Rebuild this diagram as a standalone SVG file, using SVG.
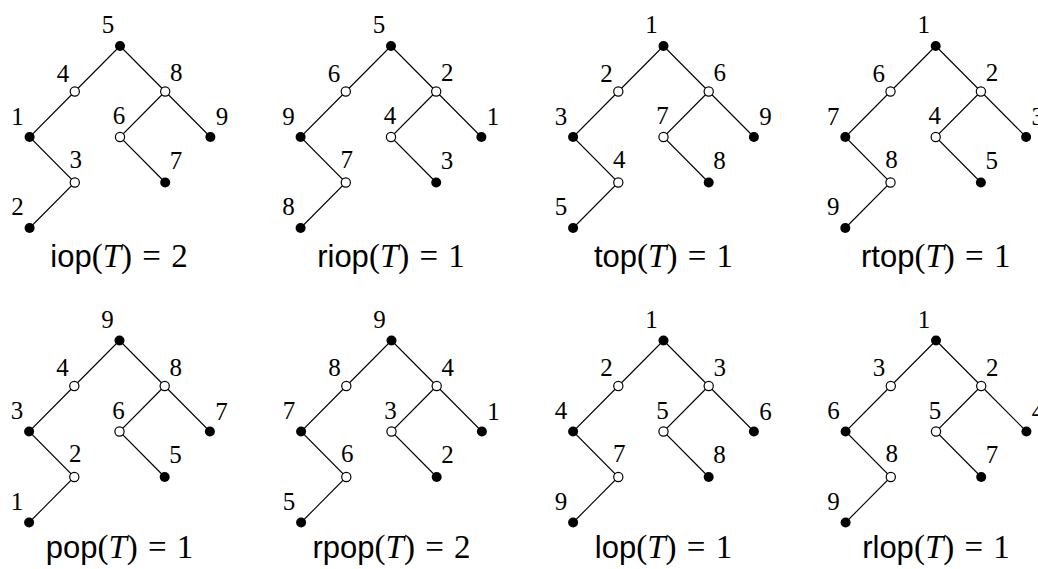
<svg xmlns="http://www.w3.org/2000/svg" width="1038" height="569" viewBox="0 0 1038 569">
<style>
.e{stroke:#000;stroke-width:1.1;fill:none}
.f{fill:#000;stroke:none}
.o{fill:#fff;stroke:#000;stroke-width:1.2}
.lb{font-family:"Liberation Serif","DejaVu Serif",serif;font-size:25px;text-anchor:middle;fill:#000}
.cap{font-family:"Liberation Serif","DejaVu Serif",serif;font-size:33px;text-anchor:middle;fill:#000;word-spacing:2px}
.sf{font-family:"Liberation Sans","DejaVu Sans",sans-serif;font-size:31px}
.it{font-style:italic}
</style>
<rect width="1038" height="569" fill="#fff"/>
<defs>
<g id="edges">
<path class="e" d="M0,0 L-45.2,45.5 L-90.4,91 L-45.2,136.5 L-90.4,182 M0,0 L45.2,45.5 L90.4,91 M45.2,45.5 L0,91 L45.2,136.5"/>
</g>
</defs>

<!-- Tree 1 -->
<g id="tree-iop" transform="translate(120,46)">
<g id="iop-connectors"><use href="#edges"/></g>
<g id="iop-n5"><circle class="f" cx="0" cy="0" r="5"/><text class="lb" x="-12" y="-13">5</text></g>
<g id="iop-n4"><circle class="o" cx="-45.2" cy="45.5" r="4.6"/><text class="lb" x="-57" y="35.5">4</text></g>
<g id="iop-n8"><circle class="o" cx="45.2" cy="45.5" r="4.6"/><text class="lb" x="56.2" y="35">8</text></g>
<g id="iop-n1"><circle class="f" cx="-90.4" cy="91" r="5"/><text class="lb" x="-102.4" y="78.5">1</text></g>
<g id="iop-n6"><circle class="o" cx="0" cy="91" r="4.6"/><text class="lb" x="-1" y="78">6</text></g>
<g id="iop-n9"><circle class="f" cx="90.4" cy="91" r="5"/><text class="lb" x="102" y="79">9</text></g>
<g id="iop-n3"><circle class="o" cx="-45.2" cy="136.5" r="4.6"/><text class="lb" x="-44.2" y="121.5">3</text></g>
<g id="iop-n7"><circle class="f" cx="45.2" cy="136.5" r="5"/><text class="lb" x="56" y="122.5">7</text></g>
<g id="iop-n2"><circle class="f" cx="-90.4" cy="182" r="5"/><text class="lb" x="-102.4" y="169">2</text></g>
<text class="cap" x="-1" y="221"><tspan class="sf">iop</tspan>(<tspan class="it">T</tspan>) = 2</text>
</g>

<!-- Tree 2 -->
<g id="tree-riop" transform="translate(391,46)">
<g id="riop-connectors"><use href="#edges"/></g>
<g id="riop-n5"><circle class="f" cx="0" cy="0" r="5"/><text class="lb" x="-12" y="-13">5</text></g>
<g id="riop-n6"><circle class="o" cx="-45.2" cy="45.5" r="4.6"/><text class="lb" x="-57" y="35.5">6</text></g>
<g id="riop-n2"><circle class="o" cx="45.2" cy="45.5" r="4.6"/><text class="lb" x="56.2" y="35">2</text></g>
<g id="riop-n9"><circle class="f" cx="-90.4" cy="91" r="5"/><text class="lb" x="-102.4" y="78.5">9</text></g>
<g id="riop-n4"><circle class="o" cx="0" cy="91" r="4.6"/><text class="lb" x="-1" y="78">4</text></g>
<g id="riop-n1"><circle class="f" cx="90.4" cy="91" r="5"/><text class="lb" x="102" y="79">1</text></g>
<g id="riop-n7"><circle class="o" cx="-45.2" cy="136.5" r="4.6"/><text class="lb" x="-44.2" y="121.5">7</text></g>
<g id="riop-n3"><circle class="f" cx="45.2" cy="136.5" r="5"/><text class="lb" x="56" y="122.5">3</text></g>
<g id="riop-n8"><circle class="f" cx="-90.4" cy="182" r="5"/><text class="lb" x="-102.4" y="169">8</text></g>
<text class="cap" x="0" y="221"><tspan class="sf">riop</tspan>(<tspan class="it">T</tspan>) = 1</text>
</g>

<!-- Tree 3 -->
<g id="tree-top" transform="translate(663.5,46)">
<g id="top-connectors"><use href="#edges"/></g>
<g id="top-n1"><circle class="f" cx="0" cy="0" r="5"/><text class="lb" x="-12" y="-13">1</text></g>
<g id="top-n2"><circle class="o" cx="-45.2" cy="45.5" r="4.6"/><text class="lb" x="-57" y="35.5">2</text></g>
<g id="top-n6"><circle class="o" cx="45.2" cy="45.5" r="4.6"/><text class="lb" x="56.2" y="35">6</text></g>
<g id="top-n3"><circle class="f" cx="-90.4" cy="91" r="5"/><text class="lb" x="-102.4" y="78.5">3</text></g>
<g id="top-n7"><circle class="o" cx="0" cy="91" r="4.6"/><text class="lb" x="-1" y="78">7</text></g>
<g id="top-n9"><circle class="f" cx="90.4" cy="91" r="5"/><text class="lb" x="102" y="79">9</text></g>
<g id="top-n4"><circle class="o" cx="-45.2" cy="136.5" r="4.6"/><text class="lb" x="-44.2" y="121.5">4</text></g>
<g id="top-n8"><circle class="f" cx="45.2" cy="136.5" r="5"/><text class="lb" x="56" y="122.5">8</text></g>
<g id="top-n5"><circle class="f" cx="-90.4" cy="182" r="5"/><text class="lb" x="-102.4" y="169">5</text></g>
<text class="cap" x="0" y="221"><tspan class="sf">top</tspan>(<tspan class="it">T</tspan>) = 1</text>
</g>

<!-- Tree 4 -->
<g id="tree-rtop" transform="translate(935.7,46)">
<g id="rtop-connectors"><use href="#edges"/></g>
<g id="rtop-n1"><circle class="f" cx="0" cy="0" r="5"/><text class="lb" x="-12" y="-13">1</text></g>
<g id="rtop-n6"><circle class="o" cx="-45.2" cy="45.5" r="4.6"/><text class="lb" x="-57" y="35.5">6</text></g>
<g id="rtop-n2"><circle class="o" cx="45.2" cy="45.5" r="4.6"/><text class="lb" x="56.2" y="35">2</text></g>
<g id="rtop-n7"><circle class="f" cx="-90.4" cy="91" r="5"/><text class="lb" x="-102.4" y="78.5">7</text></g>
<g id="rtop-n4"><circle class="o" cx="0" cy="91" r="4.6"/><text class="lb" x="-1" y="78">4</text></g>
<g id="rtop-n3"><circle class="f" cx="90.4" cy="91" r="5"/><text class="lb" x="102" y="79">3</text></g>
<g id="rtop-n8"><circle class="o" cx="-45.2" cy="136.5" r="4.6"/><text class="lb" x="-44.2" y="121.5">8</text></g>
<g id="rtop-n5"><circle class="f" cx="45.2" cy="136.5" r="5"/><text class="lb" x="56" y="122.5">5</text></g>
<g id="rtop-n9"><circle class="f" cx="-90.4" cy="182" r="5"/><text class="lb" x="-102.4" y="169">9</text></g>
<text class="cap" x="0" y="221"><tspan class="sf">rtop</tspan>(<tspan class="it">T</tspan>) = 1</text>
</g>

<!-- Tree 5 -->
<g id="tree-pop" transform="translate(119.5,340.5)">
<g id="pop-connectors"><use href="#edges"/></g>
<g id="pop-n9"><circle class="f" cx="0" cy="0" r="5"/><text class="lb" x="-12" y="-13">9</text></g>
<g id="pop-n4"><circle class="o" cx="-45.2" cy="45.5" r="4.6"/><text class="lb" x="-57" y="35.5">4</text></g>
<g id="pop-n8"><circle class="o" cx="45.2" cy="45.5" r="4.6"/><text class="lb" x="56.2" y="35">8</text></g>
<g id="pop-n3"><circle class="f" cx="-90.4" cy="91" r="5"/><text class="lb" x="-102.4" y="78.5">3</text></g>
<g id="pop-n6"><circle class="o" cx="0" cy="91" r="4.6"/><text class="lb" x="-1" y="78">6</text></g>
<g id="pop-n7"><circle class="f" cx="90.4" cy="91" r="5"/><text class="lb" x="102" y="79">7</text></g>
<g id="pop-n2"><circle class="o" cx="-45.2" cy="136.5" r="4.6"/><text class="lb" x="-44.2" y="121.5">2</text></g>
<g id="pop-n5"><circle class="f" cx="45.2" cy="136.5" r="5"/><text class="lb" x="56" y="122.5">5</text></g>
<g id="pop-n1"><circle class="f" cx="-90.4" cy="182" r="5"/><text class="lb" x="-102.4" y="169">1</text></g>
<text class="cap" x="0" y="217.5"><tspan class="sf">pop</tspan>(<tspan class="it">T</tspan>) = 1</text>
</g>

<!-- Tree 6 -->
<g id="tree-rpop" transform="translate(391.5,340.5)">
<g id="rpop-connectors"><use href="#edges"/></g>
<g id="rpop-n9"><circle class="f" cx="0" cy="0" r="5"/><text class="lb" x="-12" y="-13">9</text></g>
<g id="rpop-n8"><circle class="o" cx="-45.2" cy="45.5" r="4.6"/><text class="lb" x="-57" y="35.5">8</text></g>
<g id="rpop-n4"><circle class="o" cx="45.2" cy="45.5" r="4.6"/><text class="lb" x="56.2" y="35">4</text></g>
<g id="rpop-n7"><circle class="f" cx="-90.4" cy="91" r="5"/><text class="lb" x="-102.4" y="78.5">7</text></g>
<g id="rpop-n3"><circle class="o" cx="0" cy="91" r="4.6"/><text class="lb" x="-1" y="78">3</text></g>
<g id="rpop-n1"><circle class="f" cx="90.4" cy="91" r="5"/><text class="lb" x="102" y="79">1</text></g>
<g id="rpop-n6"><circle class="o" cx="-45.2" cy="136.5" r="4.6"/><text class="lb" x="-44.2" y="121.5">6</text></g>
<g id="rpop-n2"><circle class="f" cx="45.2" cy="136.5" r="5"/><text class="lb" x="56" y="122.5">2</text></g>
<g id="rpop-n5"><circle class="f" cx="-90.4" cy="182" r="5"/><text class="lb" x="-102.4" y="169">5</text></g>
<text class="cap" x="0" y="217.5"><tspan class="sf">rpop</tspan>(<tspan class="it">T</tspan>) = 2</text>
</g>

<!-- Tree 7 -->
<g id="tree-lop" transform="translate(663.5,340.5)">
<g id="lop-connectors"><use href="#edges"/></g>
<g id="lop-n1"><circle class="f" cx="0" cy="0" r="5"/><text class="lb" x="-12" y="-13">1</text></g>
<g id="lop-n2"><circle class="o" cx="-45.2" cy="45.5" r="4.6"/><text class="lb" x="-57" y="35.5">2</text></g>
<g id="lop-n3"><circle class="o" cx="45.2" cy="45.5" r="4.6"/><text class="lb" x="56.2" y="35">3</text></g>
<g id="lop-n4"><circle class="f" cx="-90.4" cy="91" r="5"/><text class="lb" x="-102.4" y="78.5">4</text></g>
<g id="lop-n5"><circle class="o" cx="0" cy="91" r="4.6"/><text class="lb" x="-1" y="78">5</text></g>
<g id="lop-n6"><circle class="f" cx="90.4" cy="91" r="5"/><text class="lb" x="102" y="79">6</text></g>
<g id="lop-n7"><circle class="o" cx="-45.2" cy="136.5" r="4.6"/><text class="lb" x="-44.2" y="121.5">7</text></g>
<g id="lop-n8"><circle class="f" cx="45.2" cy="136.5" r="5"/><text class="lb" x="56" y="122.5">8</text></g>
<g id="lop-n9"><circle class="f" cx="-90.4" cy="182" r="5"/><text class="lb" x="-102.4" y="169">9</text></g>
<text class="cap" x="0" y="217.5"><tspan class="sf">lop</tspan>(<tspan class="it">T</tspan>) = 1</text>
</g>

<!-- Tree 8 -->
<g id="tree-rlop" transform="translate(936,340.5)">
<g id="rlop-connectors"><use href="#edges"/></g>
<g id="rlop-n1"><circle class="f" cx="0" cy="0" r="5"/><text class="lb" x="-12" y="-13">1</text></g>
<g id="rlop-n3"><circle class="o" cx="-45.2" cy="45.5" r="4.6"/><text class="lb" x="-57" y="35.5">3</text></g>
<g id="rlop-n2"><circle class="o" cx="45.2" cy="45.5" r="4.6"/><text class="lb" x="56.2" y="35">2</text></g>
<g id="rlop-n6"><circle class="f" cx="-90.4" cy="91" r="5"/><text class="lb" x="-102.4" y="78.5">6</text></g>
<g id="rlop-n5"><circle class="o" cx="0" cy="91" r="4.6"/><text class="lb" x="-1" y="78">5</text></g>
<g id="rlop-n4"><circle class="f" cx="90.4" cy="91" r="5"/><text class="lb" x="102" y="79">4</text></g>
<g id="rlop-n8"><circle class="o" cx="-45.2" cy="136.5" r="4.6"/><text class="lb" x="-44.2" y="121.5">8</text></g>
<g id="rlop-n7"><circle class="f" cx="45.2" cy="136.5" r="5"/><text class="lb" x="56" y="122.5">7</text></g>
<g id="rlop-n9"><circle class="f" cx="-90.4" cy="182" r="5"/><text class="lb" x="-102.4" y="169">9</text></g>
<text class="cap" x="0" y="217.5"><tspan class="sf">rlop</tspan>(<tspan class="it">T</tspan>) = 1</text>
</g>
</svg>
